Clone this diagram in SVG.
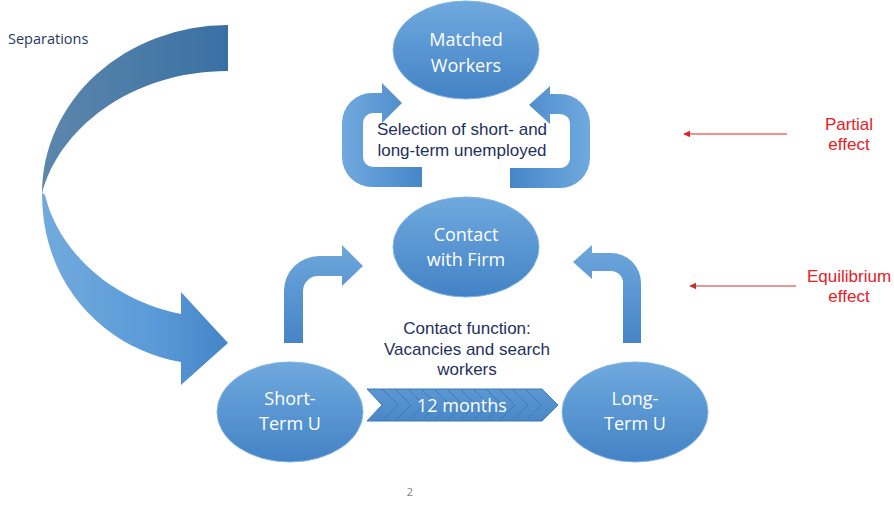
<svg xmlns="http://www.w3.org/2000/svg" width="894" height="507" viewBox="0 0 894 507">
<defs>
<linearGradient id="gEll" x1="0" y1="0" x2="0" y2="1">
<stop offset="0" stop-color="#6fa9de"/>
<stop offset="1" stop-color="#4382c5"/>
</linearGradient>
<linearGradient id="gH" x1="0" y1="0" x2="1" y2="0">
<stop offset="0" stop-color="#70a9de"/>
<stop offset="1" stop-color="#4686c8"/>
</linearGradient>
<linearGradient id="gV" x1="0" y1="0" x2="0" y2="1">
<stop offset="0" stop-color="#6ea7dc"/>
<stop offset="1" stop-color="#4584c6"/>
</linearGradient>
<linearGradient id="gUp" x1="0" y1="0" x2="1" y2="0">
<stop offset="0" stop-color="#5d87ac"/>
<stop offset="1" stop-color="#3970a3"/>
</linearGradient>
<linearGradient id="gLow" x1="0" y1="0" x2="1" y2="0">
<stop offset="0" stop-color="#72aadc"/>
<stop offset="0.6" stop-color="#5a9ad8"/>
<stop offset="1" stop-color="#4585c6"/>
</linearGradient>
<linearGradient id="gChev" x1="0" y1="0" x2="0" y2="1">
<stop offset="0" stop-color="#5b97d3"/>
<stop offset="1" stop-color="#4a87c7"/>
</linearGradient>
<marker id="redHead1" viewBox="0 0 10 10" refX="9" refY="5" markerWidth="7" markerHeight="7" orient="auto" markerUnits="userSpaceOnUse">
<path d="M0,0 L10,5 L0,10 Z" fill="#e8201f"/>
</marker>
<marker id="redHead2" viewBox="0 0 10 10" refX="9" refY="5" markerWidth="7" markerHeight="7" orient="auto" markerUnits="userSpaceOnUse">
<path d="M0,0 L10,5 L0,10 Z" fill="#c9302c"/>
</marker>
</defs>
<style>
.ell{fill:url(#gEll);stroke:#7fb3e2;stroke-width:1}
.nt{font-family:"Open Sans","Liberation Sans",sans-serif;font-size:18px;fill:#ffffff;text-anchor:middle}
.dark{font-family:"Liberation Sans",Arial,sans-serif;font-size:17px;fill:#1f2f5f;text-anchor:middle}
.red{font-family:"Liberation Sans",Arial,sans-serif;font-size:17px;fill:#e8201f;text-anchor:middle}
.chl{fill:none;stroke:#3f79b6;stroke-width:1}
</style>
<rect width="894" height="507" fill="#ffffff"/>

<text x="8" y="44" font-family="Open Sans, Liberation Sans, sans-serif" font-size="14.5" fill="#1f3864">Separations</text>

<g id="connectors">
<g id="separations-arrow">
<path d="M228,25 A186,168 0 0 0 42,194 C58,130 130,71 228,71 Z" fill="url(#gUp)"/>
<path d="M42,193 C42,290 110,350 181,362 L181,385 L228,343 L181,292 L181,314 C110,300 58,250 45,195 Z" fill="url(#gLow)"/>
</g>
<path id="loop-left" d="M422,187 L372,187 A30,30 0 0 1 342,157 L342,123 A30,30 0 0 1 372,93 L382,93 L382,83 L402,103 L382,123 L382,113 L373,113 A10,10 0 0 0 363,123 L363,157 A10,10 0 0 0 373,167 L422,167 Z" fill="url(#gH)"/>
<path id="loop-right" transform="translate(932,0) scale(-1,1)" d="M422,188 L372,188 A30,30 0 0 1 342,158 L342,124 A30,30 0 0 1 372,94 L382,94 L382,86 L403,105 L382,124 L382,114 L373,114 A10,10 0 0 0 362,124 L362,158 A10,10 0 0 0 373,168 L422,168 Z" fill="url(#gH)"/>
<path id="bend-left" d="M284,343 L284,291 A35,35 0 0 1 319,256 L342,256 L342,245 L363,266 L342,286 L342,276 L318,276 A15,15 0 0 0 303,291 L303,343 Z" fill="url(#gV)"/>
<path id="bend-right" d="M641,343 L641,283 A30,30 0 0 0 611,253 L592,253 L592,245 L573,262 L592,279 L592,271 L611,271 A12,12 0 0 1 623,283 L623,343 Z" fill="url(#gV)"/>
<g id="chevron-12-months">
<path d="M367,389 L542,389 L558,405 L542,421 L367,421 L382,405 Z" fill="url(#gChev)" stroke="#3f79b6" stroke-width="1"/>
<path class="chl" d="M382,389 L398,405 L382,421"/>
<path class="chl" d="M395,389 L411,405 L395,421"/>
<path class="chl" d="M408,389 L424,405 L408,421"/>
<path class="chl" d="M421,389 L437,405 L421,421"/>
<path class="chl" d="M434,389 L450,405 L434,421"/>
<path class="chl" d="M447,389 L463,405 L447,421"/>
<path class="chl" d="M460,389 L476,405 L460,421"/>
<path class="chl" d="M473,389 L489,405 L473,421"/>
<path class="chl" d="M486,389 L502,405 L486,421"/>
<path class="chl" d="M499,389 L515,405 L499,421"/>
<path class="chl" d="M512,389 L528,405 L512,421"/>
<path class="chl" d="M525,389 L541,405 L525,421"/>
<text class="nt" x="462" y="412">12 months</text>
</g>
<line id="partial-arrow" x1="787" y1="134" x2="684" y2="134" stroke="#e8201f" stroke-width="1.2" marker-end="url(#redHead1)"/>
<line id="equilibrium-arrow" x1="796" y1="286" x2="690" y2="286" stroke="#c9302c" stroke-width="1.2" marker-end="url(#redHead2)"/>
</g>

<g id="matched-workers">
<ellipse class="ell" cx="466" cy="50" rx="73" ry="49"/>
<text class="nt" x="466" y="46">Matched</text>
<text class="nt" x="466" y="72">Workers</text>
</g>
<g id="contact-with-firm">
<ellipse class="ell" cx="466" cy="247" rx="73" ry="50"/>
<text class="nt" x="466" y="241">Contact</text>
<text class="nt" x="466" y="266">with Firm</text>
</g>
<g id="short-term-u">
<ellipse class="ell" cx="290" cy="412" rx="73" ry="50"/>
<text class="nt" x="290" y="405">Short-</text>
<text class="nt" x="290" y="430">Term U</text>
</g>
<g id="long-term-u">
<ellipse class="ell" cx="635" cy="412" rx="73" ry="50"/>
<text class="nt" x="635" y="405">Long-</text>
<text class="nt" x="635" y="430">Term U</text>
</g>

<text class="dark" x="462" y="135">Selection of short- and</text>
<text class="dark" x="462" y="156">long-term unemployed</text>
<text class="dark" x="467" y="334">Contact function:</text>
<text class="dark" x="467" y="355">Vacancies and search</text>
<text class="dark" x="467" y="375">workers</text>

<text class="red" x="849" y="130">Partial</text>
<text class="red" x="849" y="150">effect</text>
<text class="red" x="849" y="282">Equilibrium</text>
<text class="red" x="849" y="302">effect</text>

<text x="410" y="496" font-family="Open Sans, Liberation Sans, sans-serif" font-size="11" fill="#7f7f7f" text-anchor="middle">2</text>
</svg>
